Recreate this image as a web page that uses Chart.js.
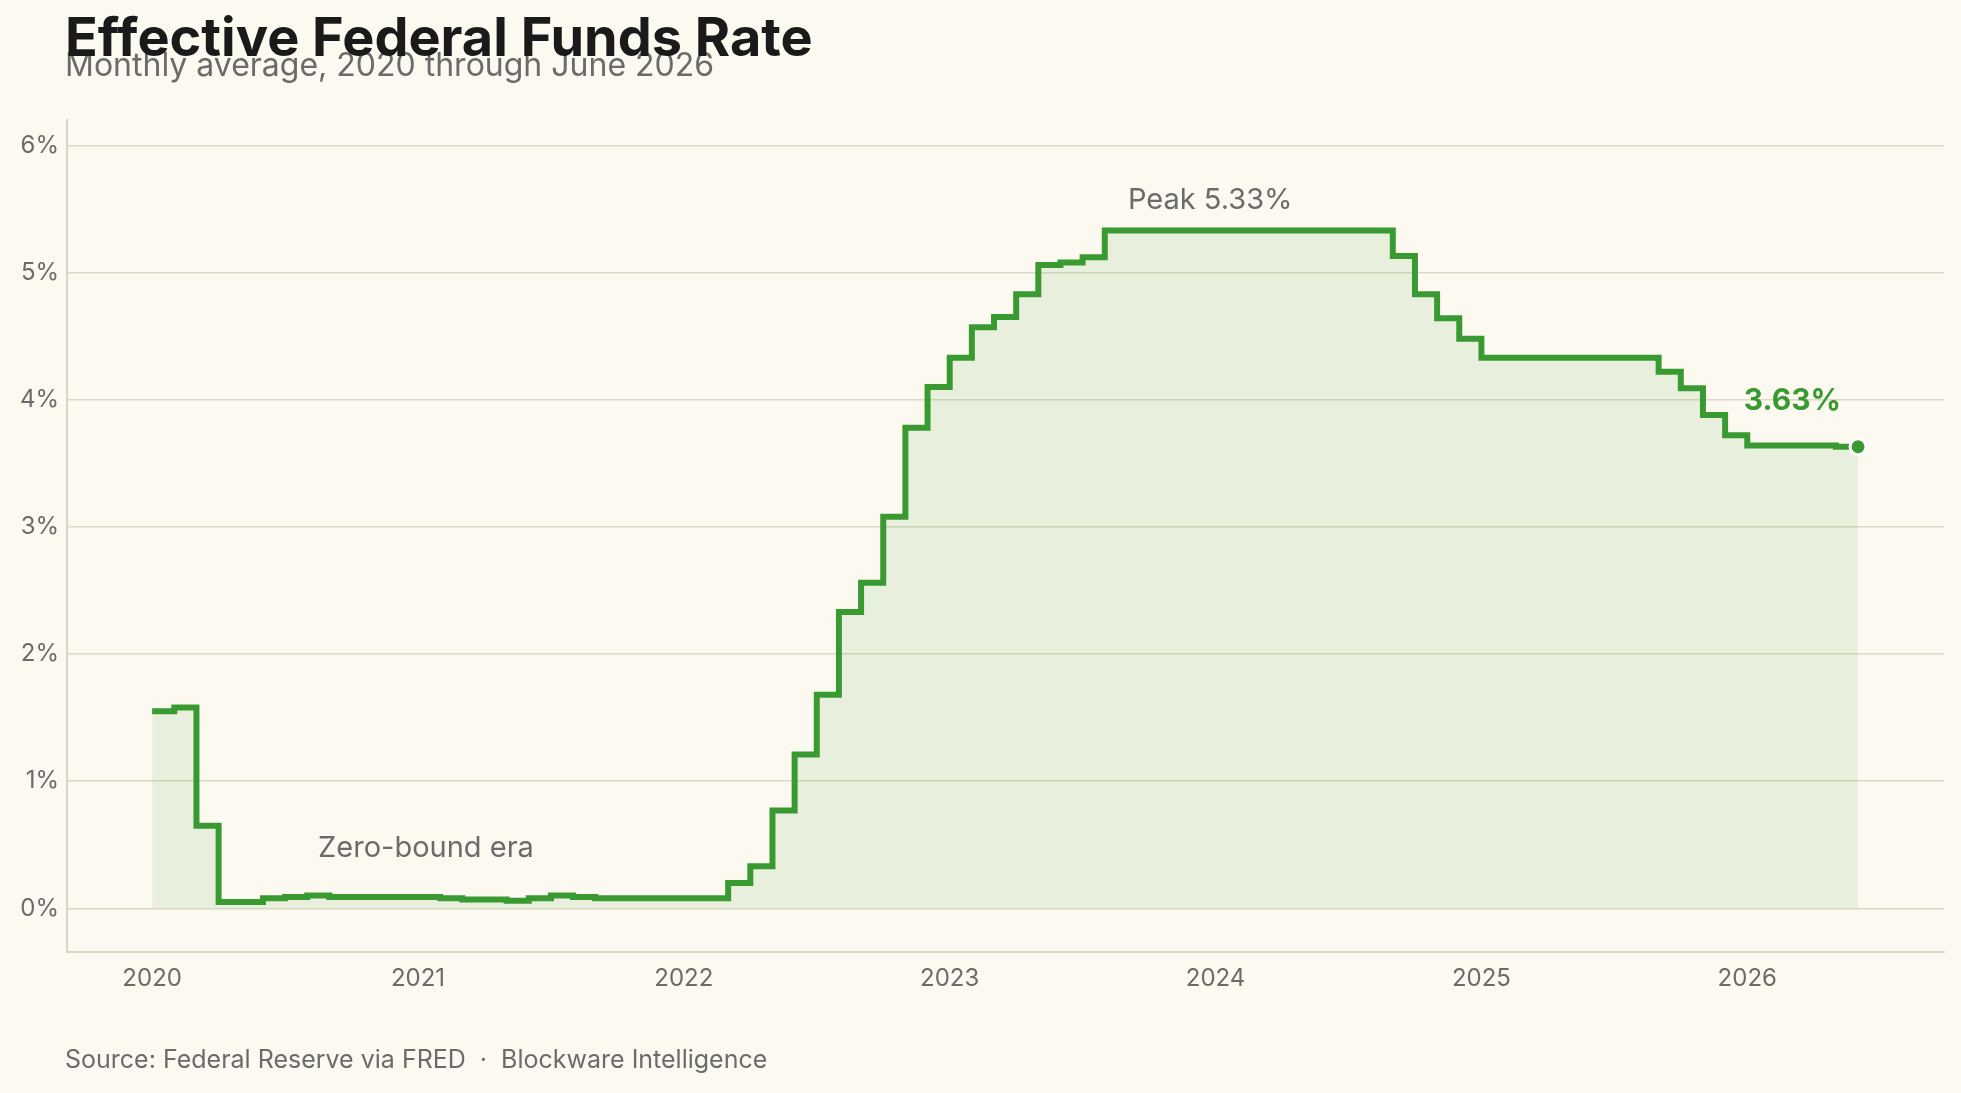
<!DOCTYPE html>
<html>
<head>
<meta charset="utf-8">
<script src="https://cdn.jsdelivr.net/npm/chart.js@4"></script>
<style>
  html, body { margin: 0; background: #fcf9f0; }
  #wrap { width: 1961px; height: 1093px; }
</style>
</head>
<body>
<div id="wrap"><canvas id="myChart"></canvas></div>
<script>
const FONT = 'Inter, "Noto Sans", sans-serif';

// monthly averages, Jan 2020 .. Jun 2026
const rates = {
   2020: [1.55, 1.58, 0.65, 0.05, 0.05, 0.08, 0.09, 0.10, 0.09, 0.09, 0.09, 0.09],
   2021: [0.09, 0.08, 0.07, 0.07, 0.06, 0.08, 0.10, 0.09, 0.08, 0.08, 0.08, 0.08],
   2022: [0.08, 0.08, 0.20, 0.33, 0.77, 1.21, 1.68, 2.33, 2.56, 3.08, 3.78, 4.10],
   2023: [4.33, 4.57, 4.65, 4.83, 5.06, 5.08, 5.12, 5.33, 5.33, 5.33, 5.33, 5.33],
   2024: [5.33, 5.33, 5.33, 5.33, 5.33, 5.33, 5.33, 5.33, 5.13, 4.83, 4.64, 4.48],
   2025: [4.33, 4.33, 4.33, 4.33, 4.33, 4.33, 4.33, 4.33, 4.22, 4.09, 3.88, 3.72],
   2026: [3.64, 3.64, 3.64, 3.64, 3.63, 3.63]
};

let points = [];
for (const year in rates) {
   rates[year].forEach((v, m) => points.push({x: +year + m / 12, y: v}));
}
const last = points[points.length - 1];

const notes = {
   id: 'notes',
   afterDatasetsDraw(chart) {
      const {ctx, scales: {x, y}} = chart;
      ctx.save();
      ctx.textAlign = 'center';
      ctx.textBaseline = 'middle';
      ctx.fillStyle = '#6b6b6b';
      ctx.font = '29px ' + FONT;
      ctx.fillText('Peak 5.33%', x.getPixelForValue(2023.98), y.getPixelForValue(5.57));
      ctx.fillText('Zero-bound era', x.getPixelForValue(2021.03), y.getPixelForValue(0.47));
      ctx.fillStyle = '#3a9a32';
      ctx.font = 'bold 30px ' + FONT;
      ctx.fillText('3.63%', x.getPixelForValue(2026.17), y.getPixelForValue(3.99));
      // end dot
      ctx.beginPath();
      ctx.arc(x.getPixelForValue(last.x), y.getPixelForValue(last.y), 8, 0, Math.PI * 2);
      ctx.fillStyle = '#3a9a32';
      ctx.strokeStyle = '#ffffff';
      ctx.lineWidth = 3;
      ctx.fill();
      ctx.stroke();
      ctx.restore();
   },
   afterDraw(chart) {
      const ctx = chart.ctx;
      ctx.save();
      ctx.textAlign = 'left';
      ctx.textBaseline = 'alphabetic';
      ctx.fillStyle = '#6b6b6b';
      ctx.font = '32px ' + FONT;
      ctx.fillText('Monthly average, 2020 through June 2026', 65, 76);
      ctx.fillStyle = '#1a1a1a';
      ctx.font = 'bold 54px ' + FONT;
      ctx.fillText('Effective Federal Funds Rate', 65, 56);
      ctx.fillStyle = '#6b6b6b';
      ctx.font = '25px ' + FONT;
      ctx.fillText('Source: Federal Reserve via FRED  \u00b7  Blockware Intelligence', 65, 1068);
      ctx.restore();
   }
};

const config = {
   type: 'line',
   data: {
      datasets: [{
         data: points,
         stepped: true,
         borderColor: '#3a9a32',
         borderWidth: 6,
         backgroundColor: 'rgba(58,154,50,0.1)',
         fill: 'origin',
         pointRadius: 0
      }]
   },
   options: {
      responsive: true,
      maintainAspectRatio: false,
      animation: false,
      layout: {padding: {top: 120, left: 12, right: 17, bottom: 96}},
      plugins: {legend: {display: false}, tooltip: {enabled: false}},
      scales: {
         x: {
            type: 'linear',
            min: 2019.68,
            max: 2026.74,
            afterBuildTicks: (axis) => {
               axis.ticks = [2020, 2021, 2022, 2023, 2024, 2025, 2026].map(v => ({value: v}));
            },
            ticks: {color: '#6b6b6b', font: {size: 24, family: FONT}, callback: v => String(v), padding: 4},
            grid: {display: false},
            border: {color: '#d9d6c3', width: 2}
         },
         y: {
            min: -0.345,
            max: 6.2,
            afterBuildTicks: (axis) => {
               axis.ticks = [0, 1, 2, 3, 4, 5, 6].map(v => ({value: v}));
            },
            ticks: {color: '#6b6b6b', font: {size: 24, family: FONT}, callback: v => v + '%', padding: 8},
            grid: {color: '#dcdac6', lineWidth: 1.5, drawTicks: false},
            border: {color: '#d9d6c3', width: 2}
         }
      }
   },
   plugins: [notes]
};

const myChart = new Chart(document.getElementById('myChart'), config);
</script>
</body>
</html>
